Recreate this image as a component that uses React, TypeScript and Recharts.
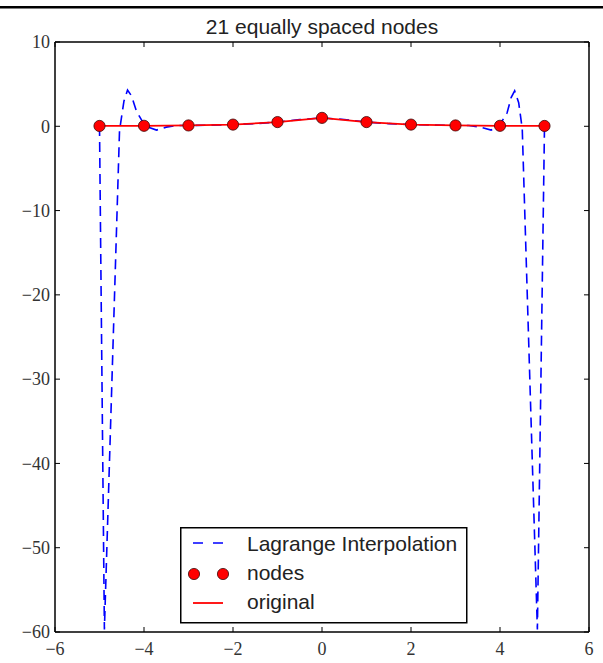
import React from "react";
import { ComposedChart, Line, Scatter, XAxis, YAxis, Legend, ReferenceLine } from "recharts";

// axis ticks
const xTicks = [-6, -4, -2, 0, 2, 4, 6];
const yTicks = [-60, -50, -40, -30, -20, -10, 0, 10];

// nodes (markers) and original function
const nodeX = [-5, -4, -3, -2, -1, 0, 1, 2, 3, 4, 5];
const nodeY = [0.04, 0.06, 0.1, 0.2, 0.5, 1.0, 0.5, 0.2, 0.1, 0.06, 0.04];

const originalX = [-5, -4, -3, -2, -1, 0, 1, 2, 3, 4, 5];
const originalY = [0.04, 0.06, 0.1, 0.2, 0.5, 1.0, 0.5, 0.2, 0.1, 0.06, 0.04];

// Lagrange interpolation polyline
const lagrangeX = [
  -5.0, -4.89, -4.55, -4.45, -4.37, -4.28, -4.17, -3.98, -3.72, -3.5, -3.25, -3.0, -2.5,
  -2.0, -1.5, -1.0, -0.5, 0, 0.5, 1.0, 1.5, 2.0, 2.5, 3.0, 3.3, 3.55, 3.8, 3.98, 4.16,
  4.25, 4.33, 4.42, 4.5, 4.84, 5.0,
];
const lagrangeY = [
  0.04, -59.7, -0.5, 3.0, 4.3, 3.6, 1.8, 0.06, -0.45, -0.1, 0.1, 0.1, 0.14, 0.2, 0.31,
  0.5, 0.8, 1.0, 0.8, 0.5, 0.31, 0.2, 0.14, 0.1, 0.1, -0.1, -0.45, 0.06, 1.6, 3.4, 4.2,
  2.8, -0.3, -59.7, 0.04,
];

const legendLabels = ["Lagrange Interpolation", "nodes", "original"];
const title = "21 equally spaced nodes";

const nodes = nodeX.map((x, i) => ({ x, y: nodeY[i] }));
const original = originalX.map((x, i) => ({ x, y: originalY[i] }));
const lagrange = lagrangeX.map((x, i) => ({ x, y: lagrangeY[i] }));

// plot frame in page pixels
const PLOT_LEFT = 55;
const PLOT_RIGHT = 589;
const PLOT_TOP = 42;
const PLOT_BOTTOM = 632;

const TICK_FONT = "'Liberation Serif', serif";
const SANS = "'Liberation Sans', Arial, sans-serif";
const fmt = (v: number) => (v < 0 ? "\u2212" + Math.abs(v) : String(v));

// bottom labels plus inward ticks on the bottom and top spines
function XTick(props: any) {
  const { x, payload } = props;
  return (
    <g>
      <line x1={x} x2={x} y1={PLOT_BOTTOM} y2={PLOT_BOTTOM - 5} stroke="#000" strokeWidth={1} />
      <line x1={x} x2={x} y1={PLOT_TOP} y2={PLOT_TOP + 5} stroke="#000" strokeWidth={1} />
      <text x={x} y={PLOT_BOTTOM + 9} dy="0.78em" textAnchor="middle" fontSize={18} fontFamily={TICK_FONT} fill="#333">
        {fmt(payload.value)}
      </text>
    </g>
  );
}

// left labels plus inward ticks on the left and right spines
function YTick(props: any) {
  const { y, payload } = props;
  return (
    <g>
      <line x1={PLOT_LEFT} x2={PLOT_LEFT + 5} y1={y} y2={y} stroke="#000" strokeWidth={1} />
      <line x1={PLOT_RIGHT} x2={PLOT_RIGHT - 5} y1={y} y2={y} stroke="#000" strokeWidth={1} />
      <text x={PLOT_LEFT - 5} y={y} dy="0.35em" textAnchor="end" fontSize={18} fontFamily={TICK_FONT} fill="#333">
        {fmt(payload.value)}
      </text>
    </g>
  );
}

function NodeDot(props: any) {
  const { cx, cy } = props;
  return <circle cx={cx} cy={cy} r={5.6} fill="#ff0000" stroke="#3b0a0a" strokeWidth={0.8} />;
}

function LegendBox() {
  return (
    <svg width={288} height={97} style={{ display: "block" }}>
      <rect x={0.75} y={0.75} width={286} height={95} fill="#fff" stroke="#000" strokeWidth={1.5} />
      <line x1={13} x2={43} y1={16} y2={16} stroke="#0000ff" strokeWidth={1.6} strokeDasharray="10 10" />
      <circle cx={14} cy={47} r={5.6} fill="#ff0000" stroke="#3b0a0a" strokeWidth={0.8} />
      <circle cx={43} cy={47} r={5.6} fill="#ff0000" stroke="#3b0a0a" strokeWidth={0.8} />
      <line x1={13} x2={43} y1={76} y2={76} stroke="#ff0000" strokeWidth={1.8} />
      {legendLabels.map((t, i) => (
        <text key={t} x={67} y={24 + i * 29} fontSize={21} fontFamily={SANS} fill="#222">
          {t}
        </text>
      ))}
    </svg>
  );
}

export default function App() {
  return (
    <div style={{ position: "absolute", left: 0, top: 0, width: 603, height: 663, background: "#fff" }}>
      <ComposedChart
        width={603}
        height={663}
        margin={{ top: PLOT_TOP, right: 603 - PLOT_RIGHT, bottom: 0, left: 0 }}
      >
        <XAxis
          dataKey="x"
          type="number"
          domain={[-6, 6]}
          ticks={xTicks}
          interval={0}
          allowDataOverflow
          height={663 - PLOT_BOTTOM}
          tickLine={false}
          axisLine={{ stroke: "#000", strokeWidth: 1.5 }}
          tick={<XTick />}
        />
        <YAxis
          type="number"
          domain={[-60, 10]}
          ticks={yTicks}
          interval={0}
          allowDataOverflow
          width={PLOT_LEFT}
          tickLine={false}
          axisLine={{ stroke: "#000", strokeWidth: 1.5 }}
          tick={<YTick />}
        />
        <ReferenceLine x={6} stroke="#000" strokeWidth={1.5} />
        <ReferenceLine y={10} stroke="#000" strokeWidth={1.5} />
        <Line
          data={lagrange}
          dataKey="y"
          name="Lagrange Interpolation"
          type="linear"
          stroke="#0000ff"
          strokeWidth={1.6}
          strokeDasharray="10 6"
          dot={false}
          activeDot={false}
          isAnimationActive={false}
        />
        <Line
          data={original}
          dataKey="y"
          name="original"
          type="linear"
          stroke="#ff0000"
          strokeWidth={1.8}
          dot={false}
          activeDot={false}
          isAnimationActive={false}
        />
        <Scatter data={nodes} dataKey="y" name="nodes" shape={<NodeDot />} isAnimationActive={false} />
        <Legend
          layout="vertical"
          align="center"
          verticalAlign="middle"
          wrapperStyle={{ left: 180, top: 527, width: 288, height: 97 }}
          content={() => <LegendBox />}
        />
      </ComposedChart>
      <svg width={603} height={40} style={{ position: "absolute", left: 0, top: 0 }}>
        <rect x={0} y={6} width={603} height={2.5} fill="#000" />
        <text x={322} y={34} textAnchor="middle" fontSize={21} fontFamily={SANS} fill="#222">
          {title}
        </text>
      </svg>
    </div>
  );
}
